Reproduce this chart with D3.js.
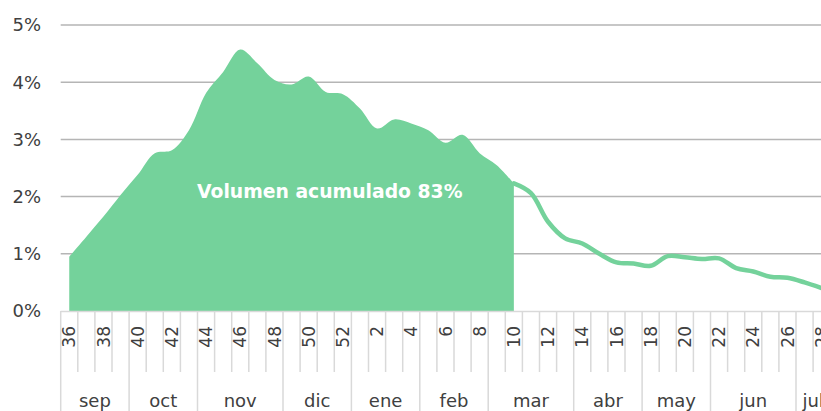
<!DOCTYPE html>
<html>
<head>
<meta charset="utf-8">
<script src="https://cdn.jsdelivr.net/npm/d3@7"></script>
<style>
  body { margin: 0; background: #fff; }
  svg { display: block; font-family: "Century Gothic", "DejaVu Sans", sans-serif; }
</style>
</head>
<body>
<svg width="821" height="411"></svg>
<script>
// weeks of the season (sep -> jul)
var weeks = [36,37,38,39,40,41,42,43,44,45,46,47,48,49,50,51,52,
	1,2,3,4,5,6,7,8,9,10,11,12,13,14,15,16,17,18,19,20,21,22,23,24,25,26,27,28];

// share of volume per week (%), accumulated part up to week 10
var acumulado = [0.95,1.30,1.65,2.03,2.38,2.76,2.81,3.16,3.81,4.18,4.57,4.33,4.04,3.96,4.10,3.83,3.79,
	3.54,3.19,3.35,3.28,3.16,2.94,3.08,2.76,2.55,2.23];

// remaining weeks, from week 10 on
var resto = [2.23,2.06,1.56,1.27,1.18,1.00,0.85,0.83,0.79,0.96,0.94,0.91,0.92,0.75,0.69,0.60,0.58,0.50,0.40];

var months = ["sep","oct","nov","dic","ene","feb","mar","abr","may","jun","jul"];
var monthWeeks = [4,4,5,4,4,4,5,4,4,5,2];

var yTicks = [0,1,2,3,4,5];
var label = "Volumen acumulado 83%";

var svg = d3.select("svg"),
	green = "#74d29b",
	textColor = "#404040";

var x = d3.scaleBand()
	.domain(weeks)
	.range([60.7, 60.7 + weeks.length * 17.1])
	.padding(0);

var y = d3.scaleLinear()
	.domain([0, 5])
	.range([311, 25]);

function cx(i) { return x(weeks[i]) + x.bandwidth() / 2; }

// gridlines
svg.append("g")
	.selectAll("line")
	.data(yTicks.slice(1))
	.enter().append("line")
	.attr("x1", x.range()[0]).attr("x2", 821)
	.attr("y1", function(d) { return y(d); })
	.attr("y2", function(d) { return y(d); })
	.attr("stroke", "#b5b5b5")
	.attr("stroke-width", 1.5);

// y labels
svg.append("g")
	.selectAll("text")
	.data(yTicks)
	.enter().append("text")
	.attr("x", 41)
	.attr("y", function(d) { return y(d); })
	.attr("dy", "0.36em")
	.attr("text-anchor", "end")
	.attr("fill", textColor)
	.style("font-size", "18px")
	.text(function(d) { return d + "%"; });

// area (accumulated volume)
var area = d3.area()
	.x(function(d, i) { return cx(i); })
	.y0(y(0))
	.y1(function(d) { return y(d); })
	.curve(d3.curveCatmullRom.alpha(0.5));

svg.append("path")
	.datum(acumulado)
	.attr("d", area)
	.attr("fill", green);

// line (rest of season)
var offset = acumulado.length - 1;
var line = d3.line()
	.x(function(d, i) { return cx(i + offset); })
	.y(function(d) { return y(d); })
	.curve(d3.curveCatmullRom.alpha(0.5));

svg.append("path")
	.datum(resto)
	.attr("d", line)
	.attr("fill", "none")
	.attr("stroke", green)
	.attr("stroke-width", 4.5)
	.attr("stroke-linecap", "round");

// label inside the area
svg.append("text")
	.attr("x", cx(15) + 4)
	.attr("y", y(2))
	.attr("dy", "0.1em")
	.attr("text-anchor", "middle")
	.attr("fill", "#fff")
	.style("font-size", "18.8px")
	.style("font-weight", "bold")
	.text(label);

// category axis: baseline
svg.append("line")
	.attr("x1", x.range()[0]).attr("x2", 821)
	.attr("y1", 311.5).attr("y2", 311.5)
	.attr("stroke", "#d9d9d9")
	.attr("stroke-width", 1.5);

// month boundaries
var bounds = [0];
monthWeeks.forEach(function(n, i) { bounds.push(bounds[i] + n); });
var monthBound = {};
bounds.forEach(function(b) { monthBound[b] = true; });

// week tick lines
svg.append("g")
	.selectAll("line")
	.data(d3.range(weeks.length + 1))
	.enter().append("line")
	.attr("x1", function(i) { return x.range()[0] + i * x.bandwidth(); })
	.attr("x2", function(i) { return x.range()[0] + i * x.bandwidth(); })
	.attr("y1", 311)
	.attr("y2", function(i) { return monthBound[i] ? 411 : 372; })
	.attr("stroke", "#d9d9d9")
	.attr("stroke-width", 1.5);

// week labels, every other one
svg.append("g")
	.selectAll("text")
	.data(weeks.filter(function(d, i) { return i % 2 === 0; }))
	.enter().append("text")
	.attr("transform", function(d) {
		return "translate(" + (x(d) + x.bandwidth() / 2) + ",326) rotate(-90)";
	})
	.attr("dy", "0.36em")
	.attr("text-anchor", "end")
	.attr("fill", textColor)
	.style("font-size", "17px")
	.text(function(d) { return d; });

// month labels
svg.append("g")
	.selectAll("text")
	.data(months)
	.enter().append("text")
	.attr("x", function(d, i) {
		return x.range()[0] + (bounds[i] + bounds[i + 1]) / 2 * x.bandwidth();
	})
	.attr("y", 407)
	.attr("text-anchor", "middle")
	.attr("fill", textColor)
	.style("font-size", "18px")
	.text(function(d) { return d; });
</script>
</body>
</html>
